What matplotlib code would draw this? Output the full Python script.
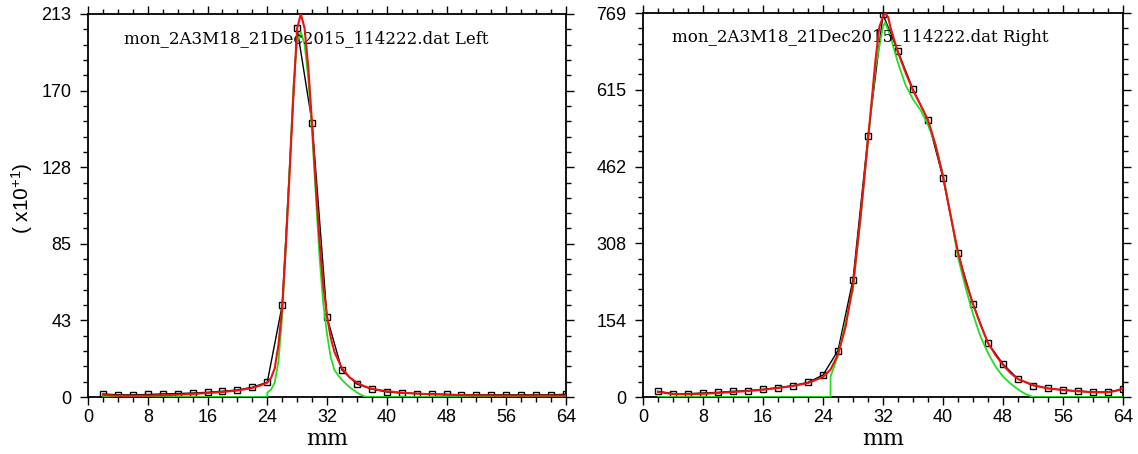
import matplotlib
matplotlib.use("Agg")
import matplotlib.pyplot as plt
from matplotlib.ticker import MultipleLocator, AutoMinorLocator, FixedLocator, FixedFormatter
import numpy as np

plt.rcParams['font.family'] = ['Liberation Sans', 'DejaVu Sans']
plt.rcParams['mathtext.default'] = 'regular'

# sample positions (mm)
pos_mm = list(range(2, 65, 2))

# left monitor: measured points
left_meas = [1.7, 1.2, 1.2, 1.4, 1.7, 1.9, 2.2, 2.6, 3.2, 3.9, 5.4, 8.2,
             51, 205, 152.6, 44.3, 15, 7.2, 4.4,
             2.8, 2.2, 1.9, 1.7, 1.5, 1.2, 1.2, 1.2, 1.2, 1.2, 1.2, 1.2, 1.5]
# left: red fit curve
left_fit_x = [2, 4, 6, 8, 10, 12, 14, 16, 18, 20, 22, 23, 24, 24.5, 25, 25.5, 26, 26.5,
              27, 27.5, 28, 28.5, 29, 29.5, 30, 30.5, 31, 31.5, 32, 32.5, 33, 34, 35,
              36, 37, 38, 40, 42, 44, 46, 48, 52, 56, 60, 64]
left_fit_y = [1.2, 0.7, 0.7, 0.8, 1.0, 1.3, 1.7, 2.2, 2.8, 3.6, 5.0, 6.3, 8.0, 10.5, 16, 29,
              50, 85, 125, 168, 205, 213, 205, 183, 152, 118, 87, 62, 45, 33, 25, 16, 11,
              8, 6, 4.6, 3.2, 2.4, 1.9, 1.5, 1.2, 0.9, 0.8, 0.8, 0.8]
# left: green curve
left_core_x = [2, 24, 24.01, 24.5, 25, 25.5, 26, 26.5, 27, 27.5, 28, 28.5, 29, 29.5, 30,
               30.5, 31, 31.5, 32, 32.5, 33, 33.5, 34, 35, 36, 37, 38, 64]
left_core_y = [0, 0, 2.5, 4, 8, 20, 45, 85, 128, 172, 198, 203, 196, 177, 148,
               112, 78, 52, 35, 22, 15, 12, 9.5, 5.5, 2.5, 0.3, 0, 0]

# right monitor: measured points
right_meas = [11.4, 6.7, 6.7, 8, 9.3, 11.4, 12.7, 15.4, 18.7, 22.7, 29.4, 44,
              93, 235, 522, 766, 692, 616, 554, 439, 288, 186, 108, 66, 36,
              23, 17.4, 14, 12, 10, 10, 16]
right_fit_x = [2, 4, 6, 8, 10, 12, 14, 16, 18, 20, 22, 24, 25, 26, 27, 28, 29, 30, 31,
               31.5, 32, 32.3, 32.7, 33, 34, 35, 36, 37, 38, 39, 40, 41, 42, 43, 44, 45,
               46, 47, 48, 49, 50, 52, 54, 56, 58, 60, 62, 63, 64]
right_fit_y = [10, 6, 5.5, 6.5, 8, 10, 12, 14.5, 18, 22, 28, 40, 55, 85, 140, 225, 360,
               515, 675, 740, 762, 769, 760, 740, 690, 650, 614, 585, 555, 505, 442, 365,
               290, 232, 186, 145, 108, 84, 64, 48, 36, 24, 17, 14, 11.5, 9.5, 9.5, 12, 17]
right_core_x = [2, 25.0, 25.01, 26, 27, 28, 29, 30, 31, 32, 32.3, 33, 34, 35, 36, 37, 38,
                39, 40, 41, 42, 43, 44, 45, 46, 47, 48, 49, 50, 51, 52, 64]
right_core_y = [0, 0, 41, 83, 150, 215, 358, 512, 660, 742, 750, 722, 669, 625, 596,
                575, 545, 505, 445, 365, 280, 220, 166, 121, 88, 61, 41, 27, 15, 6, 0, 0]

left_ymax = 213
right_ymax = 769
left_ylabels = ['0', '43', '85', '128', '170', '213']
right_ylabels = ['0', '154', '308', '462', '615', '769']

file_name = 'mon_2A3M18_21Dec2015_114222.dat'


def draw_panel(ax, meas, fit_x, fit_y, core_x, core_y, ymax, ylabels, side, text_x):
    ax.plot(pos_mm, meas, color='black', lw=1.0, marker='s', ms=4.5,
            mfc='none', mec='black', mew=1.0, zorder=2)
    ax.plot(core_x, core_y, color='#22dd22', lw=1.3, zorder=3)
    ax.plot(fit_x, fit_y, color='#ee1111', lw=1.5, zorder=4)

    ax.set_xlim(0, 64)
    ax.set_ylim(0, ymax)
    ax.xaxis.set_major_locator(MultipleLocator(8))
    ax.xaxis.set_minor_locator(AutoMinorLocator(4))
    ax.yaxis.set_major_locator(FixedLocator(np.linspace(0, ymax, 6)))
    ax.yaxis.set_major_formatter(FixedFormatter(ylabels))
    ax.yaxis.set_minor_locator(AutoMinorLocator(5))
    ax.tick_params(which='both', direction='out', top=True, right=True,
                   labelsize=13, width=1.0)
    ax.tick_params(which='major', length=6)
    ax.tick_params(which='minor', length=3.5)
    ax.tick_params(axis='y', pad=6)
    ax.tick_params(axis='x', pad=3)
    for sp in ax.spines.values():
        sp.set_linewidth(1.3)

    ax.set_xlabel('mm', family='DejaVu Serif', fontsize=16)
    ax.xaxis.set_label_coords(0.5, -0.08)
    ax.text(text_x, 0.937, f'{file_name} {side}', transform=ax.transAxes,
            family='DejaVu Serif', fontsize=12, va='center', ha='left')


fig = plt.figure(figsize=(11.38, 4.54), dpi=100)
ax1 = fig.add_axes([88 / 1138, 57 / 454, 478 / 1138, 383 / 454])
ax2 = fig.add_axes([643 / 1138, 57 / 454, 480 / 1138, 384 / 454])

draw_panel(ax1, left_meas, left_fit_x, left_fit_y, left_core_x, left_core_y,
           left_ymax, left_ylabels, 'Left', 0.075)
draw_panel(ax2, right_meas, right_fit_x, right_fit_y, right_core_x, right_core_y,
           right_ymax, right_ylabels, 'Right', 0.06)

ax1.set_ylabel('( x10$^{+1}$)', fontsize=15)
ax1.yaxis.set_label_coords(-0.11, 0.52)

fig.savefig('out.png', dpi=100)
